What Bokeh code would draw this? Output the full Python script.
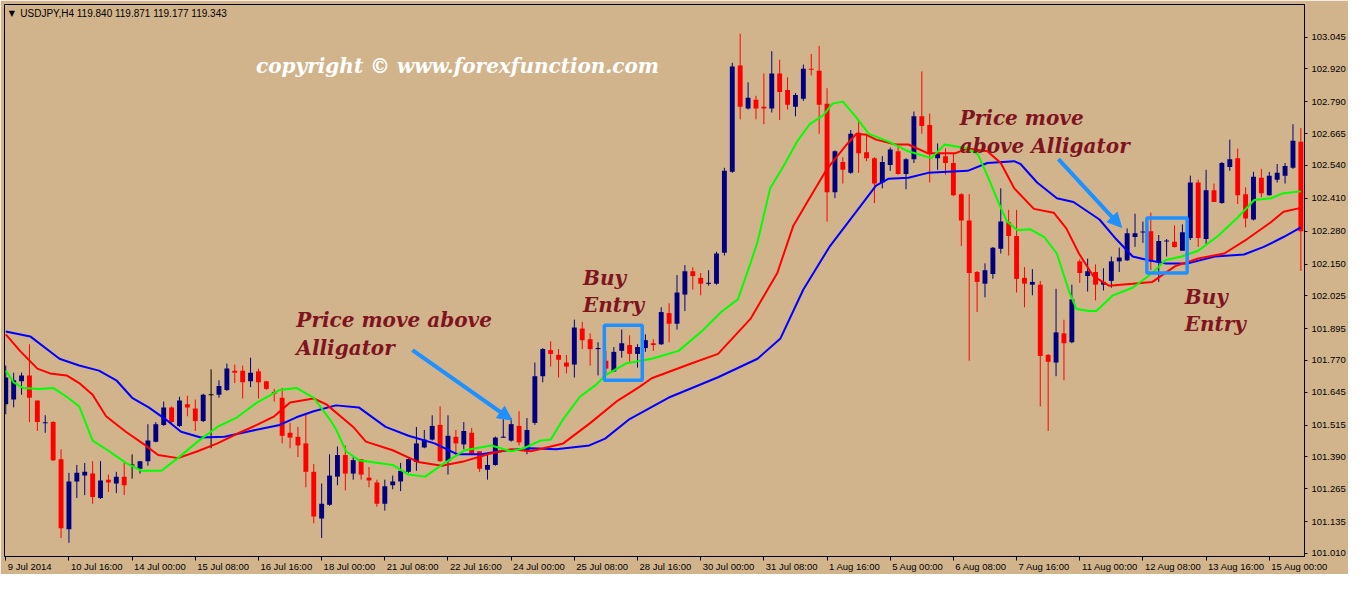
from bokeh.plotting import figure
from bokeh.models import (Range1d, LinearAxis, FixedTicker, NumeralTickFormatter,
                          CustomJSTickFormatter, Label, Arrow, NormalHead)
from bokeh.embed import file_html
from bokeh.resources import INLINE
import numpy as np

# ---------------- data (USDJPY H4) ----------------
open_ = [101.597, 101.616, 101.688, 101.711, 101.612, 101.524, 101.527, 101.381, 101.104, 101.293,
         101.316, 101.324, 101.228, 101.300, 101.285, 101.312, 101.358, 101.343, 101.373, 101.450,
         101.516, 101.585, 101.512, 101.597, 101.581, 101.531, 101.635, 101.635, 101.654, 101.730,
         101.730, 101.688, 101.727, 101.688, 101.646, 101.623, 101.485, 101.469, 101.443, 101.331,
         101.147, 101.201, 101.312, 101.397, 101.324, 101.381, 101.308, 101.289, 101.205, 101.278,
         101.293, 101.331, 101.370, 101.427, 101.458, 101.516, 101.373, 101.469, 101.439, 101.485,
         101.412, 101.339, 101.358, 101.466, 101.454, 101.512, 101.412, 101.524, 101.708, 101.811,
         101.792, 101.762, 101.754, 101.896, 101.854, 101.815, 101.769, 101.727, 101.808, 101.831,
         101.796, 101.819, 101.838, 101.834, 101.957, 101.915, 102.030, 102.122, 102.096, 102.073,
         102.073, 102.195, 102.514, 102.933, 102.764, 102.798, 102.771, 102.764, 102.902, 102.837,
         102.771, 102.802, 102.921, 102.913, 102.783, 102.434, 102.553, 102.510, 102.668, 102.591,
         102.568, 102.472, 102.541, 102.595, 102.506, 102.564, 102.733, 102.699, 102.568, 102.576,
         102.549, 102.426, 102.322, 102.119, 102.073, 102.111, 102.211, 102.315, 102.261, 102.096,
         102.069, 102.069, 101.792, 101.762, 101.877, 101.842, 102.161, 102.103, 102.119, 102.069,
         102.084, 102.161, 102.165, 102.257, 102.276, 102.280, 102.157, 102.241, 102.238, 102.203,
         102.253, 102.472, 102.249, 102.441, 102.391, 102.533, 102.568, 102.426, 102.326, 102.491,
         102.422, 102.483, 102.499, 102.530, 102.633]
high = [101.750, 101.722, 101.722, 101.834, 101.612, 101.554, 101.531, 101.420, 101.327, 101.358,
        101.366, 101.373, 101.373, 101.320, 101.331, 101.373, 101.400, 101.373, 101.519, 101.527,
        101.608, 101.589, 101.627, 101.631, 101.616, 101.639, 101.735, 101.692, 101.758, 101.754,
        101.750, 101.781, 101.738, 101.690, 101.658, 101.662, 101.524, 101.508, 101.562, 101.362,
        101.285, 101.400, 101.431, 101.435, 101.389, 101.381, 101.350, 101.300, 101.300, 101.316,
        101.366, 101.385, 101.508, 101.496, 101.554, 101.589, 101.554, 101.496, 101.527, 101.504,
        101.412, 101.397, 101.470, 101.539, 101.543, 101.570, 101.543, 101.762, 101.819, 101.846,
        101.815, 101.792, 101.931, 101.923, 101.877, 101.842, 101.808, 101.823, 101.892, 101.869,
        101.834, 101.873, 101.854, 101.980, 101.996, 102.107, 102.146, 102.138, 102.115, 102.126,
        102.199, 102.530, 102.944, 103.059, 102.867, 102.814, 102.902, 102.990, 102.956, 102.887,
        102.825, 102.937, 102.979, 103.010, 102.844, 102.599, 102.572, 102.679, 102.718, 102.660,
        102.572, 102.576, 102.610, 102.614, 102.568, 102.752, 102.910, 102.744, 102.626, 102.606,
        102.587, 102.430, 102.426, 102.123, 102.153, 102.218, 102.449, 102.364, 102.364, 102.138,
        102.130, 102.084, 101.796, 102.053, 101.931, 102.069, 102.169, 102.172, 102.149, 102.134,
        102.180, 102.215, 102.291, 102.349, 102.318, 102.353, 102.265, 102.249, 102.303, 102.307,
        102.499, 102.483, 102.522, 102.468, 102.553, 102.641, 102.606, 102.453, 102.514, 102.526,
        102.514, 102.545, 102.549, 102.702, 102.687]
low = [101.558, 101.585, 101.635, 101.527, 101.492, 101.485, 101.373, 101.070, 101.051, 101.228,
       101.239, 101.205, 101.224, 101.251, 101.247, 101.239, 101.304, 101.324, 101.355, 101.447,
       101.512, 101.516, 101.508, 101.550, 101.492, 101.527, 101.424, 101.623, 101.650, 101.681,
       101.620, 101.665, 101.620, 101.654, 101.608, 101.443, 101.424, 101.389, 101.270, 101.128,
       101.070, 101.197, 101.278, 101.258, 101.300, 101.300, 101.270, 101.193, 101.178, 101.262,
       101.255, 101.327, 101.335, 101.424, 101.454, 101.370, 101.320, 101.400, 101.420, 101.397,
       101.331, 101.300, 101.355, 101.466, 101.450, 101.435, 101.400, 101.516, 101.684, 101.746,
       101.703, 101.719, 101.703, 101.815, 101.750, 101.711, 101.711, 101.727, 101.781, 101.765,
       101.742, 101.804, 101.808, 101.831, 101.842, 101.892, 101.965, 102.050, 102.027, 102.065,
       102.069, 102.184, 102.510, 102.721, 102.760, 102.721, 102.702, 102.748, 102.718, 102.760,
       102.733, 102.794, 102.894, 102.664, 102.318, 102.410, 102.468, 102.506, 102.510, 102.556,
       102.391, 102.449, 102.518, 102.503, 102.445, 102.549, 102.664, 102.472, 102.522, 102.503,
       102.418, 102.222, 101.769, 101.961, 102.019, 102.092, 102.192, 102.184, 102.038, 101.980,
       102.027, 101.589, 101.492, 101.708, 101.692, 101.838, 102.076, 102.042, 102.007, 102.046,
       102.057, 102.119, 102.163, 102.218, 102.234, 102.126, 102.080, 102.180, 102.215, 102.203,
       102.245, 102.218, 102.230, 102.395, 102.388, 102.518, 102.387, 102.295, 102.322, 102.414,
       102.420, 102.472, 102.468, 102.526, 102.123]
close = [101.703, 101.692, 101.711, 101.623, 101.527, 101.525, 101.377, 101.108, 101.293, 101.327,
         101.331, 101.232, 101.297, 101.289, 101.312, 101.278, 101.358, 101.373, 101.454, 101.519,
         101.585, 101.527, 101.612, 101.585, 101.531, 101.635, 101.635, 101.669, 101.738, 101.722,
         101.684, 101.722, 101.684, 101.658, 101.639, 101.473, 101.466, 101.435, 101.331, 101.155,
         101.205, 101.316, 101.397, 101.324, 101.377, 101.320, 101.297, 101.205, 101.274, 101.293,
         101.335, 101.381, 101.443, 101.458, 101.512, 101.373, 101.473, 101.443, 101.492, 101.400,
         101.343, 101.358, 101.466, 101.469, 101.519, 101.447, 101.496, 101.708, 101.815, 101.796,
         101.773, 101.746, 101.900, 101.850, 101.815, 101.819, 101.738, 101.804, 101.838, 101.796,
         101.823, 101.850, 101.831, 101.961, 101.915, 102.038, 102.122, 102.103, 102.073, 102.076,
         102.192, 102.518, 102.929, 102.771, 102.806, 102.764, 102.764, 102.902, 102.829, 102.779,
         102.817, 102.921, 102.917, 102.779, 102.434, 102.595, 102.522, 102.664, 102.587, 102.568,
         102.468, 102.553, 102.602, 102.506, 102.564, 102.733, 102.695, 102.583, 102.587, 102.549,
         102.422, 102.322, 102.115, 102.080, 102.126, 102.215, 102.318, 102.261, 102.092, 102.073,
         102.080, 101.788, 101.765, 101.881, 101.838, 102.011, 102.115, 102.122, 102.069, 102.080,
         102.161, 102.176, 102.272, 102.272, 102.277, 102.161, 102.241, 102.242, 102.218, 102.276,
         102.472, 102.253, 102.441, 102.395, 102.549, 102.564, 102.422, 102.330, 102.495, 102.430,
         102.499, 102.510, 102.537, 102.637, 102.280]

# Alligator lines (bar index, price)
jaw_x = [0, 3.1, 6.8, 9.3, 11.8, 14.0, 16.0, 18.1, 20.2, 22.2, 24.7, 27.7, 31.0, 34.7, 36.8,
         39.0, 41.8, 44.7, 48.1, 51.0, 54.3, 57.2, 60.2, 63.5, 66.5, 69.7, 73.9, 75.9, 79.0, 83.9,
         90.2, 95.2, 98.1, 101.0, 104.3, 107.7, 110.2, 111.8, 114.3, 116.8, 121.8, 124.3, 127.7,
         128.5, 130.6, 133.1, 135.2, 138.5, 140.6, 142.7, 144.7, 146.8, 149.7, 153.1, 156.8,
         159.3, 161.8, 164.0]
jaw_y = [101.884, 101.865, 101.777, 101.750, 101.730, 101.692, 101.623, 101.585, 101.539, 101.489,
         101.466, 101.469, 101.492, 101.516, 101.546, 101.570, 101.593, 101.585, 101.508, 101.473,
         101.443, 101.400, 101.400, 101.416, 101.424, 101.420, 101.435, 101.462, 101.539, 101.623,
         101.704, 101.777, 101.857, 102.050, 102.218, 102.357, 102.460, 102.487, 102.491, 102.510,
         102.518, 102.549, 102.556, 102.545, 102.472, 102.410, 102.395, 102.326, 102.249, 102.180,
         102.165, 102.153, 102.153, 102.180, 102.188, 102.218, 102.257, 102.295]
teeth_x = [0, 1.8, 4.0, 5.6, 7.7, 9.3, 11.0, 12.7, 15.2, 17.7, 19.3, 21.8, 24.3, 26.8, 29.3,
           31.8, 34.0, 36.0, 39.0, 40.6, 44.0, 45.6, 49.0, 52.2, 55.2, 58.1, 61.5, 64.0, 66.5,
           68.1, 70.6, 74.0, 77.5, 80.2, 81.8, 86.8, 90.2, 94.3, 97.7, 99.7, 101.5, 104.0, 106.5,
           107.7, 109.0, 110.2, 112.7, 114.3, 116.8, 120.2, 121.8, 124.3, 126.0, 127.7, 130.2,
           132.7, 134.3, 135.9, 137.7, 139.7, 142.7, 145.2, 148.1, 151.0, 154.3, 157.2, 160.2,
           161.8, 164.0]
teeth_y = [101.873, 101.808, 101.738, 101.719, 101.711, 101.681, 101.635, 101.550, 101.489, 101.435,
           101.397, 101.385, 101.412, 101.443, 101.481, 101.516, 101.550, 101.604, 101.620, 101.597,
           101.508, 101.450, 101.416, 101.370, 101.355, 101.373, 101.404, 101.420, 101.412, 101.424,
           101.443, 101.523, 101.612, 101.665, 101.700, 101.758, 101.796, 101.934, 102.115, 102.299,
           102.395, 102.526, 102.622, 102.664, 102.660, 102.641, 102.622, 102.622, 102.587, 102.587,
           102.606, 102.595, 102.549, 102.449, 102.368, 102.353, 102.291, 102.192, 102.103, 102.065,
           102.073, 102.080, 102.142, 102.172, 102.192, 102.249, 102.315, 102.357, 102.372]
lips_x = [0, 1.0, 2.2, 4.3, 6.0, 7.7, 9.3, 11.0, 13.1, 15.2, 17.2, 19.7, 21.8, 24.3, 26.8, 29.3,
          31.8, 34.7, 36.8, 39.0, 41.0, 41.8, 43.1, 44.7, 49.0, 51.0, 53.1, 55.2, 58.1, 61.5, 63.1,
          64.0, 65.6, 67.7, 69.0, 70.6, 72.7, 74.7, 75.9, 78.5, 81.8, 85.2, 88.1, 90.6, 92.7, 94.3,
          95.2, 96.8, 98.5, 100.2, 101.8, 103.5, 104.7, 106.0, 107.7, 109.3, 111.8, 114.3, 117.2,
          118.9, 121.8, 123.1, 124.3, 126.0, 126.8, 128.1, 129.7, 131.5, 133.1, 134.7, 135.6,
          137.2, 138.1, 140.2, 142.7, 145.2, 146.8, 148.9, 151.0, 153.5, 156.0, 158.1, 160.2,
          161.8, 164.0]
lips_y = [101.730, 101.684, 101.662, 101.658, 101.662, 101.627, 101.589, 101.454, 101.412, 101.366,
          101.335, 101.335, 101.385, 101.450, 101.508, 101.546, 101.604, 101.654, 101.662, 101.623,
          101.539, 101.500, 101.412, 101.377, 101.358, 101.320, 101.312, 101.358, 101.416, 101.435,
          101.420, 101.412, 101.424, 101.454, 101.458, 101.539, 101.627, 101.673, 101.711, 101.758,
          101.777, 101.808, 101.884, 101.961, 102.011, 102.153, 102.238, 102.449, 102.537, 102.633,
          102.702, 102.737, 102.783, 102.791, 102.729, 102.664, 102.633, 102.595, 102.568, 102.622,
          102.606, 102.583, 102.499, 102.372, 102.318, 102.284, 102.288, 102.257, 102.192, 102.038,
          101.973, 101.965, 101.965, 102.027, 102.057, 102.115, 102.165, 102.180, 102.203, 102.261,
          102.334, 102.403, 102.410, 102.430, 102.437]

price_ticks = [103.045, 102.920, 102.790, 102.665, 102.540, 102.410, 102.280, 102.150, 102.025,
               101.895, 101.770, 101.645, 101.515, 101.390, 101.265, 101.135, 101.010]
date_ticks = [0, 8, 16, 24, 32, 40, 48, 56, 64, 72, 80, 88, 96, 104, 112, 120, 128, 136, 144, 152, 160]
date_labels = ["9 Jul 2014", "10 Jul 16:00", "14 Jul 00:00", "15 Jul 08:00", "16 Jul 16:00",
               "18 Jul 00:00", "21 Jul 08:00", "22 Jul 16:00", "24 Jul 00:00", "25 Jul 08:00",
               "28 Jul 16:00", "30 Jul 00:00", "31 Jul 08:00", "1 Aug 16:00", "5 Aug 00:00",
               "6 Aug 08:00", "7 Aug 16:00", "11 Aug 00:00", "12 Aug 08:00", "13 Aug 16:00",
               "15 Aug 00:00"]

# ---------------- figure ----------------
BG = "#D2B48C"
X0, X1 = -0.16, 164.46
p = figure(width=1348, height=574, output_backend="svg", toolbar_location=None,
           x_range=Range1d(X0, X1), y_range=Range1d(100.997, 103.174),
           x_axis_location=None, y_axis_location=None,
           min_border_left=4, min_border_top=4, min_border_right=0, min_border_bottom=0)
p.background_fill_color = BG
p.border_fill_color = BG
p.outline_line_color = "black"
p.outline_line_width = 1
p.grid.grid_line_color = None

AX_FONT = "Liberation Sans"
AX_SIZE = 9.5

yax = LinearAxis(ticker=FixedTicker(ticks=price_ticks),
                 formatter=NumeralTickFormatter(format="0.000"),
                 major_tick_out=3, major_tick_in=0, minor_tick_line_color=None,
                 major_label_standoff=4, axis_line_color="black",
                 major_label_text_font=AX_FONT, major_label_text_font_size=f"{AX_SIZE}px",
                 major_label_text_color="black")
p.add_layout(yax, "right")

# tick marks of the time axis
xa = LinearAxis(ticker=FixedTicker(ticks=date_ticks),
                formatter=CustomJSTickFormatter(code="return ''"),
                major_tick_out=4, major_tick_in=0, minor_tick_line_color=None,
                major_label_standoff=0, major_label_text_font_size="1px",
                axis_line_color="black")
p.add_layout(xa, "below")

# labels of the time axis, left-aligned at their tick (label centre shifted)
cw = {' ': 0.278, ':': 0.278, 'J': 0.5, 'u': 0.556, 'l': 0.222, 'A': 0.667, 'g': 0.556}
def text_w(s):
    return sum(cw.get(ch, 0.556) for ch in s) * AX_SIZE
px_per_bar = 1302.0 / (X1 - X0)
label_pos = [t + (text_w(s) / 2 + 2) / px_per_bar for t, s in zip(date_ticks, date_labels)]
xb = LinearAxis(ticker=FixedTicker(ticks=label_pos),
                formatter=CustomJSTickFormatter(args=dict(t=label_pos, L=date_labels), code="""
                    let i = 0, b = 1e9;
                    for (let j = 0; j < t.length; j++) { const d = Math.abs(t[j] - tick); if (d < b) { b = d; i = j } }
                    return L[i];"""),
                major_tick_out=0, major_tick_in=0, major_tick_line_color=None,
                minor_tick_line_color=None, axis_line_color=None, major_label_standoff=0,
                major_label_text_font=AX_FONT, major_label_text_font_size=f"{AX_SIZE}px",
                major_label_text_color="black")
p.add_layout(xb, "below")

# ---------------- candles ----------------
o = np.array(open_); h = np.array(high); l = np.array(low); c = np.array(close)
x = np.arange(len(o))
cols = ["#000080" if cc > oo else ("#FF0000" if cc < oo else "#000000") for oo, cc in zip(o, c)]
top = np.maximum(o, c); bot = np.minimum(o, c)
minh = 0.0042
pad = np.where(top - bot < minh, (minh - (top - bot)) / 2, 0)
top = top + pad; bot = bot - pad
p.segment(x0=x, y0=l, x1=x, y1=h, line_color=cols, line_width=1)
p.vbar(x=x, width=0.62, top=top, bottom=bot, fill_color=cols, line_color=None)

# ---------------- alligator ----------------
p.line(jaw_x, jaw_y, line_color="#0000FF", line_width=2)
p.line(teeth_x, teeth_y, line_color="#FF0000", line_width=2)
p.line(lips_x, lips_y, line_color="#00FF00", line_width=2)

# ---------------- annotations ----------------
BOX = "#1E90FF"
p.quad(left=[75.8, 144.5], right=[80.6, 149.6], top=[101.909, 102.332], bottom=[101.692, 102.115],
       fill_alpha=0, line_color=BOX, line_width=3.5)
for xs, ys, xe, ye in [(51.5, 101.811, 64.1, 101.535), (133.3, 102.564, 141.3, 102.295)]:
    p.add_layout(Arrow(end=NormalHead(size=14, fill_color=BOX, line_color=BOX),
                       x_start=xs, y_start=ys, x_end=xe, y_end=ye,
                       line_color=BOX, line_width=4))

NOTE = "#7f1420"
SERIF = "DejaVu Serif"
notes = [("Price move above", 36.8, 101.931), ("Alligator", 36.8, 101.819),
         ("Buy", 73.1, 102.096), ("Entry", 73.1, 101.988),
         ("Price move", 120.8, 102.727), ("above Alligator", 120.8, 102.614),
         ("Buy", 149.3, 102.019), ("Entry", 149.3, 101.915)]
for txt, xx, yy in notes:
    p.add_layout(Label(x=xx, y=yy, text=txt, text_color=NOTE, text_font=SERIF,
                       text_font_style="bold italic", text_font_size="20px",
                       text_align="left", text_baseline="alphabetic"))

p.add_layout(Label(x=31.7, y=102.932, text="copyright  \u00a9 www.forexfunction.com",
                   text_color="white", text_font=SERIF, text_font_style="bold italic",
                   text_font_size="20px", text_align="left", text_baseline="alphabetic"))

p.add_layout(Label(x=0.78, y=103.140, text="\u25bc", text_color="black", text_font="DejaVu Sans",
                   text_font_size="8px", text_align="center", text_baseline="middle"))
p.add_layout(Label(x=1.84, y=103.140, text="USDJPY,H4  119.840 119.871 119.177 119.343",
                   text_color="black", text_font=AX_FONT, text_font_size="10px",
                   text_align="left", text_baseline="middle"))

open("out.html", "w").write(file_html(p, INLINE))
